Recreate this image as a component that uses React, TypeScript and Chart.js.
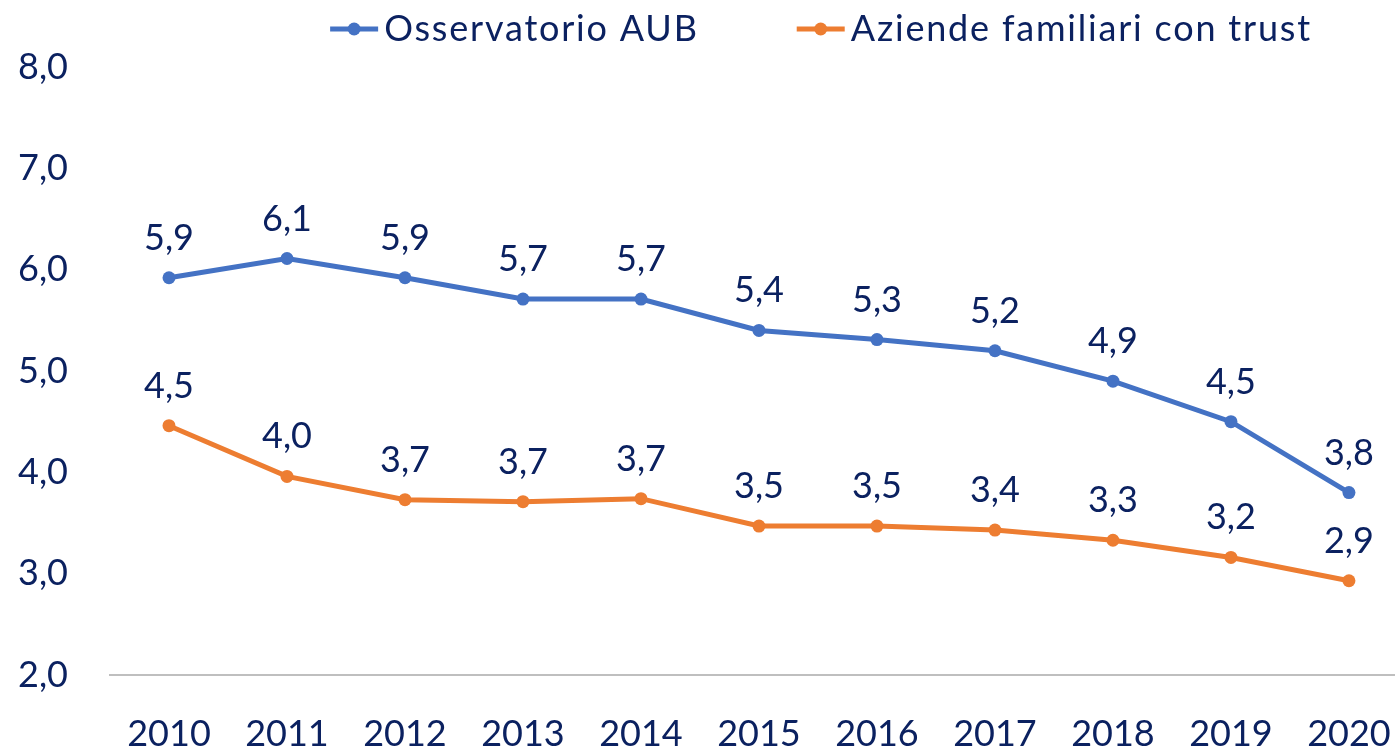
import React, { useEffect, useRef } from "react";
import { Chart, registerables } from "chart.js";

Chart.register(...registerables);

const years = ["2010", "2011", "2012", "2013", "2014", "2015", "2016", "2017", "2018", "2019", "2020"];
const osservatorioAUB = [5.92, 6.11, 5.92, 5.71, 5.71, 5.4, 5.31, 5.2, 4.9, 4.5, 3.8];
const aziendeTrust = [4.46, 3.96, 3.73, 3.71, 3.74, 3.47, 3.47, 3.43, 3.33, 3.16, 2.93];
const seriesNames = ["Osservatorio AUB", "Aziende familiari con trust"];
const seriesColors = ["#4472C4", "#ED7D31"];

const TEXT_COLOR = "#0B2160";
const FONT_FAMILY = "Lato";
const FONT_SIZE = 36;

const fmt = (v: number) => v.toFixed(1).replace(".", ",");

const dataLabelPlugin = {
  id: "dataLabels",
  afterDatasetsDraw(chart: any) {
    const ctx = chart.ctx;
    ctx.save();
    ctx.font = `${FONT_SIZE}px ${FONT_FAMILY}`;
    ctx.fillStyle = TEXT_COLOR;
    ctx.textAlign = "center";
    ctx.textBaseline = "alphabetic";
    chart.data.datasets.forEach((ds: any, i: number) => {
      const meta = chart.getDatasetMeta(i);
      meta.data.forEach((pt: any, j: number) => {
        ctx.fillText(fmt(ds.data[j]), pt.x, pt.y - 28);
      });
    });
    ctx.restore();
  },
};

const customLegendPlugin = {
  id: "customLegend",
  afterDraw(chart: any) {
    const ctx = chart.ctx;
    ctx.save();
    ctx.font = `${FONT_SIZE}px ${FONT_FAMILY}`;
    try {
      (ctx as any).letterSpacing = "1.8px";
    } catch (e) {}
    const sample = 48;
    const gapText = 6;
    const gapItem = 98;
    const widths = seriesNames.map((n) => ctx.measureText(n).width);
    let total = 0;
    widths.forEach((w, i) => {
      total += sample + gapText + w + (i < widths.length - 1 ? gapItem : 0);
    });
    const centerX = 821;
    const y = 29;
    let x = centerX - total / 2;
    seriesNames.forEach((name, i) => {
      ctx.strokeStyle = seriesColors[i];
      ctx.lineWidth = 5;
      ctx.beginPath();
      ctx.moveTo(x, y);
      ctx.lineTo(x + sample, y);
      ctx.stroke();
      ctx.fillStyle = seriesColors[i];
      ctx.beginPath();
      ctx.arc(x + sample / 2, y, 6.5, 0, Math.PI * 2);
      ctx.fill();
      ctx.fillStyle = TEXT_COLOR;
      ctx.textAlign = "left";
      ctx.textBaseline = "middle";
      ctx.fillText(name, x + sample + gapText, y);
      x += sample + gapText + widths[i] + gapItem;
    });
    ctx.restore();
  },
};

export default function App() {
  const ref = useRef<HTMLCanvasElement | null>(null);

  useEffect(() => {
    if (!ref.current) return;
    const chart = new Chart(ref.current, {
      type: "line",
      data: {
        labels: years,
        datasets: [
          {
            label: seriesNames[0],
            data: osservatorioAUB,
            borderColor: seriesColors[0],
            backgroundColor: seriesColors[0],
            borderWidth: 5,
            pointRadius: 6.5,
            pointBorderWidth: 0,
            pointBackgroundColor: seriesColors[0],
            tension: 0,
          },
          {
            label: seriesNames[1],
            data: aziendeTrust,
            borderColor: seriesColors[1],
            backgroundColor: seriesColors[1],
            borderWidth: 5,
            pointRadius: 6.5,
            pointBorderWidth: 0,
            pointBackgroundColor: seriesColors[1],
            tension: 0,
          },
        ],
      },
      options: {
        responsive: false,
        animation: false,
        devicePixelRatio: 1,
        layout: { padding: { top: 67, right: 3, bottom: 0, left: 0 } },
        plugins: {
          legend: { display: false },
          tooltip: { enabled: false },
        },
        scales: {
          x: {
            type: "category",
            offset: true,
            grid: { display: true, color: "transparent", drawTicks: false, offset: true },
            border: { display: true, color: "#BFBFBF", width: 2 },
            ticks: {
              color: TEXT_COLOR,
              font: { family: FONT_FAMILY, size: FONT_SIZE },
              padding: 38,
              maxRotation: 0,
              autoSkip: false,
            },
            afterFit: (scale: any) => {
              scale.height = 75;
            },
          },
          y: {
            min: 2,
            max: 8,
            grid: { display: false, drawTicks: false },
            border: { display: false },
            ticks: {
              stepSize: 1,
              color: TEXT_COLOR,
              font: { family: FONT_FAMILY, size: FONT_SIZE },
              padding: 42,
              callback: (v: any) => fmt(Number(v)),
            },
            afterFit: (scale: any) => {
              scale.width = 110;
            },
          },
        },
      },
      plugins: [dataLabelPlugin, customLegendPlugin],
    });
    return () => chart.destroy();
  }, []);

  return (
    <div
      style={{
        position: "fixed",
        left: 0,
        top: 0,
        width: 1395,
        height: 750,
        overflow: "hidden",
        background: "#ffffff",
      }}
    >
      <canvas ref={ref} width={1429} height={750} style={{ display: "block" }} />
    </div>
  );
}
